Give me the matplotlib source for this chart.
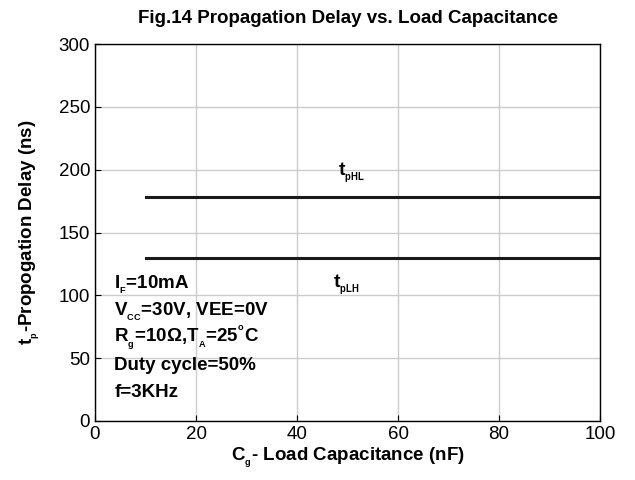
import matplotlib
matplotlib.use('Agg')
import matplotlib.pyplot as plt

# Data
cap_nf = [10, 100]
t_phl = [178, 178]
t_plh = [130, 130]

x_ticks = [0, 20, 40, 60, 80, 100]
y_ticks = [0, 50, 100, 150, 200, 250, 300]

plt.rcParams['font.family'] = 'Liberation Sans'
plt.rcParams['mathtext.fontset'] = 'custom'
plt.rcParams['mathtext.rm'] = 'Liberation Sans:bold'
plt.rcParams['mathtext.it'] = 'Liberation Sans:bold'
plt.rcParams['mathtext.bf'] = 'Liberation Sans:bold'

fig = plt.figure(figsize=(6.35, 4.8), dpi=100)
ax = fig.add_axes([0.1496, 0.123, 0.7954, 0.785])

ax.plot(cap_nf, t_phl, color='#1a1a1a', linewidth=2.2)
ax.plot(cap_nf, t_plh, color='#1a1a1a', linewidth=2.2)

ax.set_xlim(0, 100)
ax.set_ylim(0, 300)
ax.set_xticks(x_ticks)
ax.set_yticks(y_ticks)
ax.tick_params(direction='in', labelsize=13.5, length=4, width=0.8)
ax.grid(True, color='#cccccc', linewidth=1)
ax.set_axisbelow(True)
for s in ax.spines.values():
    s.set_linewidth(1)

ax.set_title('Fig.14 Propagation Delay vs. Load Capacitance',
             fontsize=13.5, fontweight='bold', pad=15)
ax.set_xlabel(r'C$_{_\mathregular{g}}$- Load Capacitance (nF)', fontsize=13.5,
              fontweight='bold', labelpad=2)
ax.set_ylabel(r't$_{_\mathregular{p}}$-Propogation Delay (ns)', fontsize=13.5,
              fontweight='bold', labelpad=12)

ax.text(48.2, 195, r't$_{_\mathregular{pHL}}$', fontsize=14, fontweight='bold', va='baseline')
ax.text(47.1, 106, r't$_{_\mathregular{pLH}}$', fontsize=14, fontweight='bold', va='baseline')

info = [r'I$_{_\mathregular{F}}$=10mA',
        r'V$_{_\mathregular{CC}}$=30V, VEE=0V',
        r'R$_{_\mathregular{g}}$=10Ω,T$_{_\mathregular{A}}$=25$^{^\mathregular{o}}$C',
        'Duty cycle=50%',
        'f=3KHz']
for i, line in enumerate(info):
    ax.text(3.8, 105 - i * 21.5, line, fontsize=13.5, fontweight='bold', va='baseline')

fig.savefig('out.png', dpi=100)
